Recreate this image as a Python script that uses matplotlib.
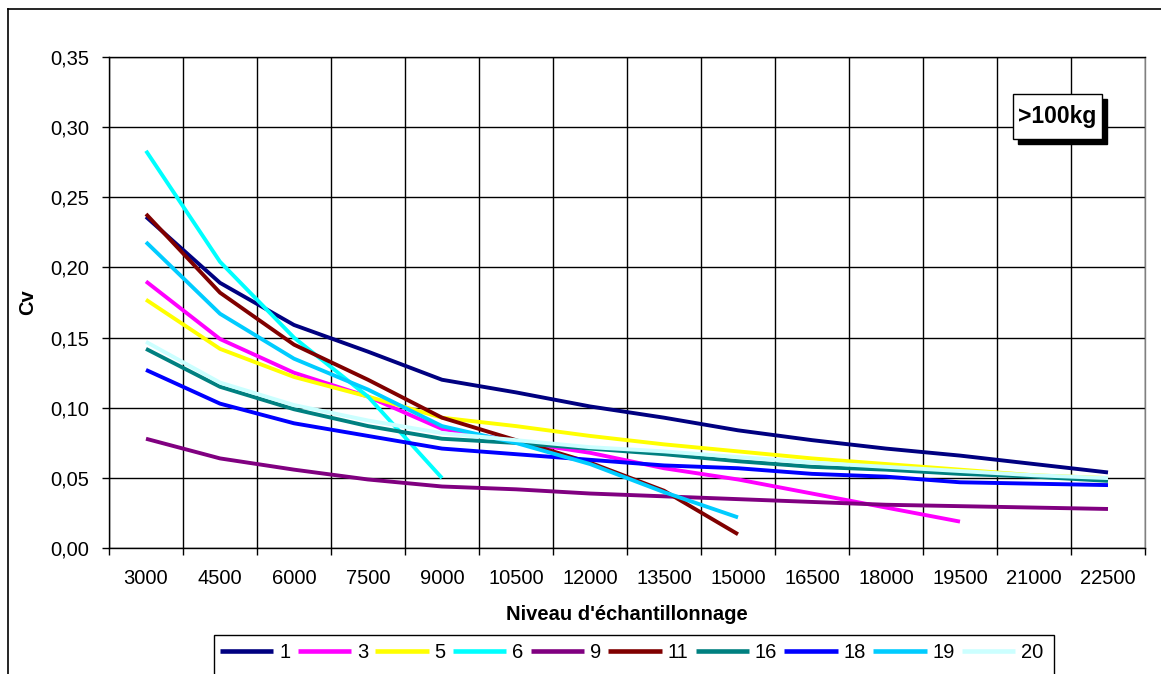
import matplotlib
matplotlib.use("Agg")
import matplotlib.pyplot as plt
from matplotlib.patches import Rectangle
from matplotlib.lines import Line2D
from matplotlib.ticker import FixedLocator, FuncFormatter

plt.rcParams['font.family'] = ['Liberation Sans', 'DejaVu Sans']

categories = ["3000", "4500", "6000", "7500", "9000", "10500", "12000", "13500",
              "15000", "16500", "18000", "19500", "21000", "22500"]

s1 = [0.236, 0.189, 0.159, 0.140, 0.120, 0.111, 0.101, 0.093, 0.084, 0.077, 0.071, 0.066, 0.060, 0.054]
s3 = [0.190, 0.149, 0.125, 0.108, 0.085, 0.076, 0.068, 0.057, 0.049, 0.039, 0.029, 0.019]
s5 = [0.177, 0.142, 0.122, 0.108, 0.093, 0.087, 0.080, 0.074, 0.069, 0.064, 0.060, 0.056, 0.052, 0.050]
s6 = [0.283, 0.204, 0.150, 0.108, 0.050]
s9 = [0.078, 0.064, 0.056, 0.049, 0.044, 0.042, 0.039, 0.037, 0.035, 0.033, 0.031, 0.030, 0.029, 0.028]
s11 = [0.238, 0.182, 0.145, 0.120, 0.093, 0.077, 0.061, 0.041, 0.010]
s16 = [0.142, 0.115, 0.099, 0.087, 0.078, 0.075, 0.071, 0.067, 0.062, 0.058, 0.056, 0.053, 0.051, 0.048]
s18 = [0.127, 0.103, 0.089, 0.080, 0.071, 0.067, 0.063, 0.059, 0.057, 0.053, 0.051, 0.047, 0.046, 0.045]
s19 = [0.218, 0.167, 0.135, 0.113, 0.087, 0.075, 0.060, 0.040, 0.022]
s20 = [0.147, 0.118, 0.102, 0.091, 0.082, 0.077, 0.072, 0.069, 0.065, 0.061, 0.058, 0.055, 0.052, 0.050]

series_names = ["1", "3", "5", "6", "9", "11", "16", "18", "19", "20"]
series_values = [s1, s3, s5, s6, s9, s11, s16, s18, s19, s20]
series_colors = ["#000080", "#FF00FF", "#FFFF00", "#00FFFF", "#800080",
                 "#800000", "#008080", "#0000FF", "#00CCFF", "#CCFFFF"]

W, H = 1161, 674
fig = plt.figure(figsize=(W / 100, H / 100), dpi=100)

def fx(px):
    return px / W

def fy(py):
    return 1 - py / H

FS = 14.5
left, right, top, bottom = 109, 1145, 56.7, 548.3
ax = fig.add_axes([fx(left), fy(bottom), (right - left) / W, (bottom - top) / H])

handles = []
for name, vals, col in zip(series_names, series_values, series_colors):
    h, = ax.plot(range(len(vals)), vals, color=col, lw=2.8, label=name,
                 solid_capstyle='butt', solid_joinstyle='round', zorder=3)
    handles.append(h)

n = len(categories)
ax.set_xlim(-0.5, n - 0.5)
ax.set_ylim(0, 0.35)

# category boundaries as major ticks (gridlines), labels at minor ticks (centres)
ax.xaxis.set_major_locator(FixedLocator([i - 0.5 for i in range(n + 1)]))
ax.xaxis.set_minor_locator(FixedLocator(list(range(n))))
ax.xaxis.set_major_formatter(FuncFormatter(lambda v, p: ""))
ax.xaxis.set_minor_formatter(FuncFormatter(lambda v, p: categories[int(round(v))] if 0 <= int(round(v)) < n else ""))
ax.tick_params(axis='x', which='major', length=5, width=1, direction='out', color='black')
ax.tick_params(axis='x', which='minor', length=0, pad=15, labelsize=FS)

yt = [0.0, 0.05, 0.10, 0.15, 0.20, 0.25, 0.30, 0.35]
ax.set_yticks(yt)
ax.yaxis.set_major_formatter(FuncFormatter(lambda v, p: f"{v:.2f}".replace(".", ",")))
ax.tick_params(axis='y', length=5, width=1, direction='out', pad=9, labelsize=FS)

ax.grid(True, which='major', color='black', lw=1, zorder=1)
ax.set_axisbelow(True)
for sp in ax.spines.values():
    sp.set_color('black')
    sp.set_linewidth(1)
ax.spines['right'].set_color('#808080')

ax.set_ylabel("Cv", fontsize=FS, fontweight='bold', labelpad=10)
fig.text(fx((left + right) / 2), fy(614), "Niveau d'échantillonnage", fontsize=FS,
         fontweight='bold', ha='center', va='center')

# outer chart border (partially cropped in the reference)
fig.add_artist(Line2D([fx(8), fx(8)], [fy(9), 0], color='black', lw=1.2, transform=fig.transFigure))
fig.add_artist(Line2D([fx(8), 1], [fy(9), fy(9)], color='black', lw=1.2, transform=fig.transFigure))

# ">100kg" label box with shadow
bx0, by0, bx1, by1 = 1012.7, 94, 1101.7, 139
fig.add_artist(Rectangle((fx(bx0 + 5), fy(by1 + 5)), (bx1 - bx0) / W, (by1 - by0) / H,
                         transform=fig.transFigure, facecolor='black', edgecolor='black', zorder=5))
fig.add_artist(Rectangle((fx(bx0), fy(by1)), (bx1 - bx0) / W, (by1 - by0) / H,
                         transform=fig.transFigure, facecolor='white', edgecolor='black', lw=1, zorder=6))
fig.text(fx((bx0 + bx1) / 2), fy((by0 + by1) / 2), ">100kg", fontsize=16.5, fontweight='bold',
         ha='center', va='center', zorder=7)

# legend box (cropped at the bottom)
fig.add_artist(Rectangle((fx(214), fy(690)), (1054 - 214) / W, (690 - 635) / H,
                         transform=fig.transFigure, facecolor='white', edgecolor='black', lw=1, zorder=4))
leg = fig.legend(handles=handles, labels=series_names, loc='center left',
                 bbox_to_anchor=(fx(216), fy(653)), ncol=10, frameon=False,
                 fontsize=FS, handlelength=2.65, handletextpad=0.3, columnspacing=0.35,
                 borderpad=0.2, borderaxespad=0)
leg.set_zorder(5)
for lh in leg.get_lines():
    lh.set_linewidth(3.3)

fig.savefig("out.png", dpi=100)
